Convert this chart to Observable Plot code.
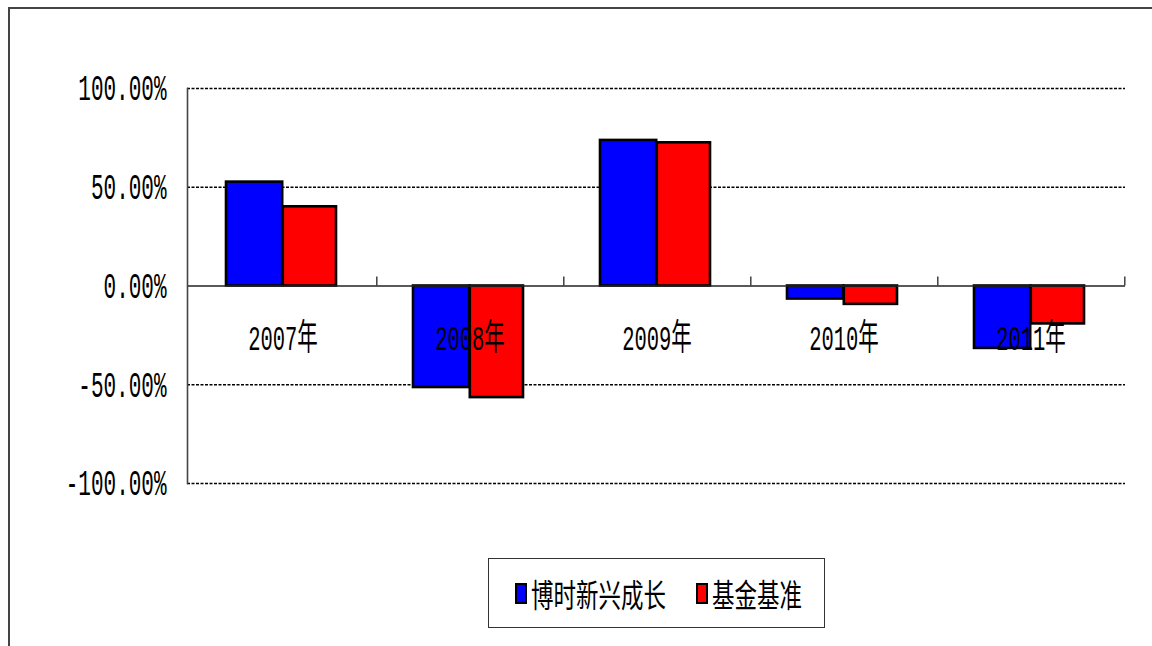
<!DOCTYPE html>
<html>
<head>
<meta charset="utf-8">
<script src="https://cdn.jsdelivr.net/npm/d3@7"></script>
<script src="https://cdn.jsdelivr.net/npm/@observablehq/plot@0.6"></script>
<style>
  html, body { margin: 0; padding: 0; background: #fff; overflow: hidden; }
  #wrap { position: relative; width: 1152px; height: 646px; overflow: hidden; background: #fff; }
  #frame { position: absolute; left: 8px; top: 7px; width: 1300px; height: 800px; border: 2px solid #444; box-sizing: border-box; }
  #chart { position: absolute; left: 0; top: 0; }
  #legend { position: absolute; left: 488px; top: 558px; width: 337px; height: 70px; border: 1.5px solid #333; box-sizing: border-box; background: #fff; }
  .item { position: absolute; top: 0; height: 100%; display: flex; align-items: center; }
  .sw { width: 8px; height: 17px; border: 2px solid #000; margin-right: 4px; }
  .lt { font-family: "Noto Sans CJK SC", sans-serif; font-size: 22.5px; transform: scaleY(1.4); transform-origin: center; color: #000; white-space: nowrap; }
</style>
</head>
<body>
<div id="wrap">
  <div id="frame"></div>
  <div id="chart"></div>
  <div id="legend"></div>
</div>
<script>
// ---- data ----
const years = ["2007年", "2008年", "2009年", "2010年", "2011年"];
const seriesNames = ["博时新兴成长", "基金基准"];
const seriesColors = ["#0000ff", "#ff0000"];
const fundReturns = [0.526, -0.514, 0.737, -0.066, -0.316];
const benchReturns = [0.401, -0.565, 0.725, -0.093, -0.192];
const yTicks = [-1, -0.5, 0, 0.5, 1];

const rows = years.flatMap((yr, i) => [
  {year: yr, series: seriesNames[0], value: fundReturns[i]},
  {year: yr, series: seriesNames[1], value: benchReturns[i]}
]);

const W = 1152, H = 646;
const mL = 187, mR = 27, mT = 88, mB = 163;
const half = (W - mL - mR) / years.length / 2;
const fontAscii = '"Liberation Mono", "Noto Sans CJK SC", monospace';

const plot = Plot.plot({
  width: W,
  height: H,
  marginLeft: mL,
  marginRight: mR,
  marginTop: mT,
  marginBottom: mB,
  style: {fontFamily: fontAscii, fontSize: "20px", background: "transparent", color: "#000"},
  x: {domain: years, padding: 0, axis: null},
  y: {domain: [-1, 1], label: null},
  marks: [
    Plot.ruleY(yTicks.filter(v => v !== 0), {stroke: "#000", strokeWidth: 1.3, strokeDasharray: "3,1.5"}),
    Plot.barY(rows.filter(d => d.series === seriesNames[0]), {
      x: "year", y: "value", fill: seriesColors[0], stroke: "#000", strokeWidth: 2.6,
      insetLeft: 37, insetRight: half
    }),
    Plot.barY(rows.filter(d => d.series === seriesNames[1]), {
      x: "year", y: "value", fill: seriesColors[1], stroke: "#000", strokeWidth: 2.6,
      insetLeft: half, insetRight: 40
    }),
    Plot.ruleY([0], {stroke: "#222", strokeWidth: 1.6}),
    Plot.ruleX(years, {x: d => d, y1: 0, y2: 0, insetTop: -9, dx: half, stroke: "#333", strokeWidth: 1.4}),
    Plot.frame({anchor: "left", stroke: "#444", strokeWidth: 1.6}),
    Plot.axisY({
      ticks: yTicks,
      tickFormat: d => (d * 100).toFixed(2) + "%",
      tickSize: 0,
      tickPadding: 21,
      fontSize: 21,
      fill: "#000",
      label: null
    }),
    Plot.text(years, {x: d => d, y: () => 0, dy: 53, text: d => d, fontSize: 20.5, fill: "#000"})
  ]
});

// vertically stretch text to mimic the tall glyphs of the original
plot.querySelectorAll("text").forEach(t => {
  const tr = t.getAttribute("transform");
  if (tr) t.setAttribute("transform", tr + " scale(1,1.75)");
});

document.getElementById("chart").appendChild(plot);

// legend
const legend = document.getElementById("legend");
const itemLeft = [26, 207];
seriesNames.forEach((name, i) => {
  const it = document.createElement("div");
  it.className = "item";
  it.style.left = itemLeft[i] + "px";
  const sw = document.createElement("div");
  sw.className = "sw";
  sw.style.background = seriesColors[i];
  const lt = document.createElement("span");
  lt.className = "lt";
  lt.textContent = name;
  it.appendChild(sw);
  it.appendChild(lt);
  legend.appendChild(it);
});
</script>
</body>
</html>
